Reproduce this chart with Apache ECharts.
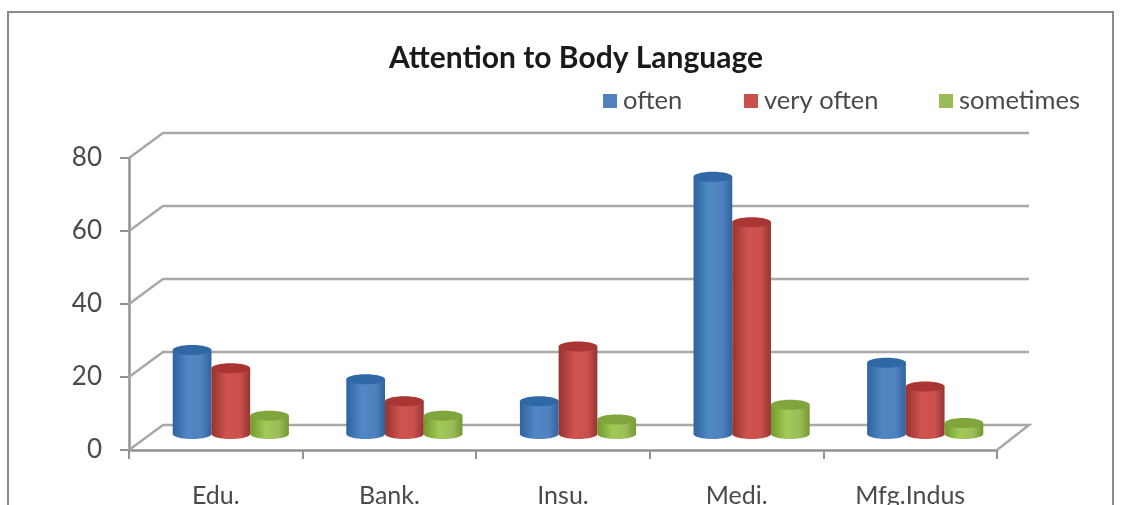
<!DOCTYPE html>
<html>
<head>
<meta charset="utf-8">
<style>html,body{margin:0;padding:0;background:#fff}#chart{width:1123px;height:505px}</style>
<script src="https://cdn.jsdelivr.net/npm/echarts@6/dist/echarts.min.js"></script>
</head>
<body>
<div id="chart"></div>
<script>
const categories = ['Edu.', 'Bank.', 'Insu.', 'Medi.', 'Mfg.Indus'];
const often = [23, 15, 9, 70.5, 19.5];
const veryOften = [18, 9, 24, 58, 13];
const sometimes = [5, 5, 4, 8, 3];
const yTicks = [0, 20, 40, 60, 80];

// Depth of the box, in pixels, and where the columns stand inside it.
const DEPTH_X = 34, DEPTH_Y = -25;
const COL_DX = 15, COL_DY = -16, COL_RY = 5, COL_FRACTION = 0.223;

const palettes = {
  often: { main: '#4F81BD', edge: '#2F639F', mid: '#5088C6', top: '#3068A6' },
  'very often': { main: '#C9504C', edge: '#953431', mid: '#D0534F', top: '#A93633' },
  sometimes: { main: '#9BBB59', edge: '#74982F', mid: '#A0CB55', top: '#7FA53C' }
};

function cylinder(name, order) {
  const p = palettes[name];
  return function (params, api) {
    const idx = api.value(0);
    const base = api.coord([idx, 0]);
    const head = api.coord([idx, api.value(1)]);
    const w = api.size([1, 0])[0] * COL_FRACTION;
    const x = base[0] + COL_DX + (order - 1.5) * w;
    const yTop = head[1] + COL_DY, yBottom = base[1] + COL_DY;
    const body = new echarts.graphic.LinearGradient(0, 0, 1, 0, [
      { offset: 0, color: p.edge },
      { offset: 0.4, color: p.mid },
      { offset: 0.75, color: p.main },
      { offset: 1, color: p.edge }
    ]);
    return {
      type: 'group',
      children: [
        { type: 'ellipse', shape: { cx: x + w / 2, cy: yBottom, rx: w / 2, ry: COL_RY }, style: { fill: body } },
        { type: 'rect', shape: { x: x, y: yTop, width: w, height: yBottom - yTop }, style: { fill: body } },
        { type: 'ellipse', shape: { cx: x + w / 2, cy: yTop, rx: w / 2, ry: COL_RY }, style: { fill: p.top } }
      ]
    };
  };
}

// Back wall rules and the floor outline of the box.
function wallLines(params, api) {
  const grid = params.coordSys;
  const y = api.coord([0, api.value(0)])[1];
  const left = grid.x, right = grid.x + grid.width;
  const points = [[left, y], [left + DEPTH_X, y + DEPTH_Y], [right + DEPTH_X - 2, y + DEPTH_Y]];
  if (api.value(0) === 0) points.push([right, y]);
  return {
    type: 'polyline',
    shape: { points: points },
    style: { fill: null, stroke: '#a8a8a8', lineWidth: 2.5 }
  };
}

const seriesNames = ['often', 'very often', 'sometimes'];
const seriesValues = [often, veryOften, sometimes];
const legendLefts = [598, 739, 934];
const textFont = 'Lato, "Open Sans", sans-serif';

const chart = echarts.init(document.getElementById('chart'), null, { renderer: 'canvas' });
chart.setOption({
  animation: false,
  backgroundColor: '#fff',
  title: {
    text: 'Attention to Body Language',
    left: 571, top: 38, textAlign: 'center',
    textStyle: { fontFamily: textFont, fontWeight: 'bold', fontSize: 30, color: '#1a1a1a' }
  },
  legend: seriesNames.map((n, i) => ({
    data: [{ name: n, icon: 'rect', itemStyle: { color: palettes[n].main } }],
    left: legendLefts[i], top: 83,
    itemWidth: 14, itemHeight: 14, itemGap: 6,
    textStyle: { fontFamily: textFont, fontSize: 25.5, color: '#4a4a4a', padding: [0, 0, 0, 1] }
  })),
  grid: { left: 129, right: 126, top: 158, height: 292, outerBoundsMode: 'none' },
  xAxis: {
    type: 'category',
    data: categories,
    axisLine: { lineStyle: { color: '#929292', width: 2.5 } },
    axisTick: { show: true, length: 9, lineStyle: { color: '#929292', width: 2 } },
    axisLabel: { margin: 33, fontFamily: textFont, fontSize: 25, color: '#4a4a4a' },
    splitLine: { show: false }
  },
  yAxis: {
    type: 'value',
    min: 0, max: 80, interval: 20,
    axisLine: { show: true, lineStyle: { color: '#929292', width: 2.5 } },
    axisTick: { show: true, length: 9, lineStyle: { color: '#929292', width: 2 } },
    axisLabel: { margin: 27, padding: [6, 0, 0, 0], verticalAlign: 'middle', fontFamily: textFont, fontSize: 26, color: '#4a4a4a' },
    splitLine: { show: false }
  },
  graphic: [{
    type: 'rect', silent: true, z: -1,
    shape: { x: 8, y: 12, width: 1105, height: 520 },
    style: { fill: '#fff', stroke: '#8a8a8a', lineWidth: 2 }
  }],
  series: [
    {
      name: 'wall', type: 'custom', z: 1, silent: true,
      encode: { y: 0 },
      renderItem: wallLines,
      data: yTicks.map(v => [v])
    }
  ].concat(seriesNames.map((n, i) => ({
    name: n, type: 'custom', z: 2 + i,
    itemStyle: { color: palettes[n].main },
    encode: { x: 0, y: 1 },
    renderItem: cylinder(n, i),
    data: seriesValues[i].map((v, k) => [k, v])
  })))
});
</script>
</body>
</html>
